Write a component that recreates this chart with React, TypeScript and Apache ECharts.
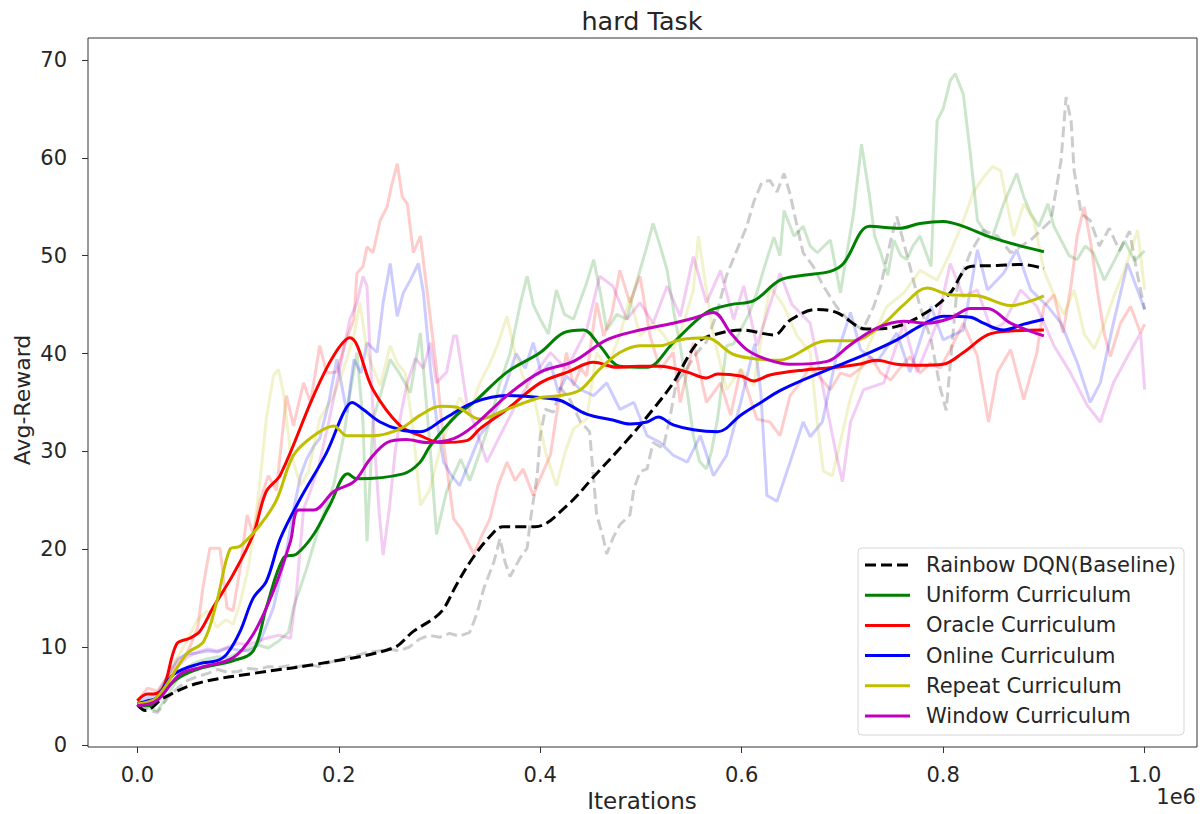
import React, { useEffect, useRef } from "react";
import * as echarts from "echarts";

type Pt = [number, number];

const seriesNames = [
  "Rainbow DQN(Baseline)",
  "Uniform Curriculum",
  "Oracle Curriculum",
  "Online Curriculum",
  "Repeat Curriculum",
  "Window Curriculum",
];
const seriesColors = ["#000000", "#008000", "#ff0000", "#0000ff", "#bfbf00", "#bf00bf"];

const xTicks = [0, 0.2, 0.4, 0.6, 0.8, 1.0];
const yTicks = [0, 10, 20, 30, 40, 50, 60, 70];

// Smoothed reward curves (x in units of 1e6 iterations)
const baselineSmooth: Pt[] = [
  [0, 4.1], [0.008, 3.5], [0.026, 4.8], [0.06, 6.3], [0.115, 7.3], [0.181, 8.3], [0.254, 9.9],
  [0.274, 11.6], [0.294, 12.9], [0.304, 13.9], [0.317, 16.4], [0.333, 19.1], [0.35, 21.3],
  [0.363, 22.3], [0.395, 22.3], [0.427, 24.5], [0.453, 27.4], [0.486, 31.1], [0.512, 34.3],
  [0.532, 37.0], [0.556, 41.1], [0.572, 41.9], [0.6, 42.4], [0.632, 41.9], [0.648, 43.4],
  [0.674, 44.5], [0.694, 44.2], [0.724, 42.5], [0.755, 42.8], [0.788, 44.5], [0.807, 46.2],
  [0.827, 48.9], [0.854, 49.0], [0.877, 49.1], [0.9, 48.7],
];
const uniformSmooth: Pt[] = [
  [0, 4.1], [0.012, 4.0], [0.023, 5.2], [0.042, 6.9], [0.062, 7.8], [0.095, 8.6], [0.115, 9.6],
  [0.128, 14.0], [0.145, 19.1], [0.158, 19.5], [0.175, 21.5], [0.191, 24.5], [0.209, 27.7],
  [0.218, 27.2], [0.264, 27.7], [0.28, 28.8], [0.291, 30.6], [0.317, 33.7], [0.334, 35.0],
  [0.367, 38.1], [0.4, 40.1], [0.423, 42.1], [0.443, 42.4], [0.459, 40.8], [0.479, 38.7],
  [0.506, 38.6], [0.532, 41.1], [0.565, 44.2], [0.589, 45.0], [0.612, 45.4], [0.638, 47.5],
  [0.661, 48.0], [0.688, 48.4], [0.701, 49.2], [0.727, 53.0], [0.757, 52.8], [0.777, 53.3],
  [0.8, 53.5], [0.82, 53.0], [0.844, 52.0], [0.873, 51.1], [0.9, 50.4],
];
const oracleSmooth: Pt[] = [
  [0, 4.5], [0.01, 5.2], [0.016, 5.2], [0.026, 5.9], [0.039, 10.3], [0.052, 10.9], [0.062, 11.6],
  [0.075, 14.0], [0.095, 17.4], [0.115, 21.5], [0.128, 25.9], [0.142, 27.6], [0.175, 35.7],
  [0.195, 39.8], [0.211, 41.6], [0.234, 36.3], [0.261, 32.6], [0.281, 31.6], [0.301, 30.9],
  [0.327, 31.1], [0.34, 32.3], [0.367, 34.3], [0.4, 37.0], [0.427, 38.1], [0.453, 39.1],
  [0.476, 38.6], [0.499, 38.7], [0.519, 38.7], [0.546, 38.1], [0.565, 37.5], [0.576, 37.9],
  [0.599, 37.7], [0.612, 37.2], [0.628, 37.8], [0.661, 38.3], [0.694, 38.6], [0.716, 38.9],
  [0.734, 39.3], [0.754, 38.9], [0.777, 38.8], [0.8, 38.9], [0.82, 40.1], [0.844, 41.9],
  [0.867, 42.3], [0.9, 42.4],
];
const onlineSmooth: Pt[] = [
  [0, 4.2], [0.01, 4.5], [0.019, 4.8], [0.036, 7.2], [0.062, 8.3], [0.079, 8.6], [0.089, 9.3],
  [0.102, 11.6], [0.115, 15.0], [0.128, 16.7], [0.142, 21.1], [0.162, 25.2], [0.188, 29.9],
  [0.205, 34.0], [0.213, 35.0], [0.224, 34.3], [0.241, 33.0], [0.261, 32.2], [0.281, 32.0],
  [0.304, 33.3], [0.334, 35.0], [0.367, 35.7], [0.4, 35.5], [0.42, 35.2], [0.446, 33.8],
  [0.472, 33.2], [0.489, 32.8], [0.506, 33.0], [0.517, 33.5], [0.532, 32.7], [0.552, 32.2],
  [0.576, 32.0], [0.599, 33.7], [0.619, 35.0], [0.638, 36.2], [0.661, 37.3], [0.694, 38.7],
  [0.727, 40.1], [0.754, 41.4], [0.777, 42.8], [0.8, 43.8], [0.827, 43.7], [0.84, 43.1],
  [0.86, 42.4], [0.88, 43.0], [0.9, 43.5],
];
const repeatSmooth: Pt[] = [
  [0, 4.2], [0.019, 4.8], [0.049, 9.3], [0.066, 10.6], [0.079, 14.7], [0.092, 20.0],
  [0.102, 20.3], [0.122, 22.5], [0.138, 25.0], [0.155, 29.6], [0.175, 31.6], [0.195, 32.6],
  [0.208, 31.6], [0.234, 31.6], [0.261, 32.3], [0.281, 33.7], [0.301, 34.6], [0.317, 34.5],
  [0.34, 33.3], [0.367, 34.3], [0.4, 35.5], [0.42, 35.7], [0.44, 36.3], [0.459, 38.4],
  [0.479, 40.1], [0.499, 40.8], [0.519, 40.8], [0.539, 41.4], [0.565, 41.6], [0.592, 39.9],
  [0.619, 39.4], [0.638, 39.3], [0.648, 39.6], [0.685, 41.3], [0.71, 41.3], [0.738, 42.8],
  [0.761, 45.0], [0.784, 46.7], [0.807, 46.0], [0.834, 45.9], [0.867, 44.9], [0.9, 45.9],
];
const windowSmooth: Pt[] = [
  [0, 4.0], [0.019, 4.5], [0.042, 7.2], [0.062, 7.9], [0.095, 8.9], [0.115, 11.3],
  [0.135, 15.7], [0.152, 20.8], [0.16, 24.0], [0.175, 24.0], [0.195, 25.9], [0.215, 26.9],
  [0.231, 29.2], [0.248, 30.9], [0.267, 31.2], [0.287, 30.9], [0.314, 31.3], [0.334, 32.6],
  [0.367, 35.7], [0.4, 38.1], [0.433, 39.2], [0.466, 41.4], [0.499, 42.4], [0.532, 43.1],
  [0.552, 43.6], [0.572, 44.2], [0.589, 42.1], [0.605, 40.4], [0.625, 39.4], [0.648, 38.9],
  [0.685, 39.2], [0.708, 40.9], [0.734, 42.6], [0.761, 43.3], [0.784, 43.1], [0.807, 43.6],
  [0.827, 44.6], [0.844, 44.6], [0.867, 43.1], [0.9, 41.8],
];

// Raw (unsmoothed) reward traces
const baselineRaw: Pt[] = [
  [0, 4.0], [0.01, 3.6], [0.02, 3.3], [0.03, 4.8], [0.04, 5.8], [0.05, 6.6], [0.06, 7.0],
  [0.07, 7.3], [0.08, 7.7], [0.09, 7.4], [0.1, 7.5], [0.11, 7.8], [0.12, 7.7], [0.13, 8.0],
  [0.14, 7.9], [0.15, 8.1], [0.16, 8.0], [0.17, 8.2], [0.18, 8.0], [0.19, 8.4], [0.2, 8.7],
  [0.21, 9.0], [0.22, 9.2], [0.23, 9.5], [0.24, 9.6], [0.25, 9.8], [0.26, 9.6], [0.27, 10.0],
  [0.28, 10.8], [0.29, 11.2], [0.3, 11.0], [0.31, 11.4], [0.32, 11.1], [0.33, 11.5],
  [0.337, 13.4], [0.344, 16.0], [0.354, 18.7], [0.36, 21.1], [0.365, 18.7], [0.37, 17.2],
  [0.38, 19.1], [0.387, 20.1], [0.39, 22.8], [0.397, 27.6], [0.4, 31.6], [0.405, 34.3],
  [0.413, 34.0], [0.42, 36.5], [0.43, 35.2], [0.44, 33.0], [0.449, 32.0], [0.456, 23.5],
  [0.462, 21.4], [0.466, 19.5], [0.472, 21.1], [0.479, 22.5], [0.489, 23.5], [0.493, 26.2],
  [0.499, 27.9], [0.506, 28.2], [0.512, 30.9], [0.522, 30.3], [0.529, 33.6], [0.535, 37.0],
  [0.545, 38.4], [0.555, 40.0], [0.565, 41.2], [0.575, 44.0], [0.585, 48.0], [0.595, 50.5],
  [0.605, 53.0], [0.612, 55.5], [0.62, 57.5], [0.628, 57.7], [0.635, 56.5], [0.642, 58.4],
  [0.648, 56.3], [0.655, 53.0], [0.661, 50.3], [0.671, 48.9], [0.681, 46.9], [0.694, 44.8],
  [0.705, 43.5], [0.72, 42.4], [0.731, 44.8], [0.738, 46.9], [0.748, 51.6], [0.754, 54.0],
  [0.767, 48.9], [0.777, 44.8], [0.788, 41.4], [0.797, 36.5], [0.803, 34.2], [0.814, 46.9],
  [0.827, 50.3], [0.84, 52.6], [0.854, 52.0], [0.867, 50.3], [0.887, 51.6], [0.907, 53.6],
  [0.917, 59.7], [0.922, 66.2], [0.927, 63.8], [0.93, 58.7], [0.937, 54.3], [0.946, 53.6],
  [0.955, 51.0], [0.965, 52.8], [0.975, 50.5], [0.985, 52.5], [0.993, 48.0], [1.0, 44.5],
];
const uniformRaw: Pt[] = [
  [0, 4.0], [0.01, 3.8], [0.02, 3.5], [0.03, 5.0], [0.04, 6.8], [0.05, 8.0], [0.06, 8.5],
  [0.07, 8.8], [0.08, 9.0], [0.09, 8.9], [0.1, 9.4], [0.11, 9.8], [0.12, 10.2], [0.13, 9.9],
  [0.14, 10.6], [0.15, 11.5], [0.155, 14.0], [0.168, 18.0], [0.181, 22.5], [0.195, 26.6],
  [0.205, 31.6], [0.212, 36.5], [0.218, 40.1], [0.224, 33.0], [0.228, 20.8], [0.234, 33.3],
  [0.242, 36.0], [0.251, 39.4], [0.26, 38.0], [0.271, 36.0], [0.281, 42.1], [0.291, 29.9],
  [0.297, 21.5], [0.307, 25.9], [0.321, 29.2], [0.33, 27.0], [0.34, 29.9], [0.35, 33.0],
  [0.36, 37.0], [0.37, 40.0], [0.38, 45.0], [0.387, 47.9], [0.393, 45.0], [0.4, 43.5],
  [0.408, 42.0], [0.416, 46.5], [0.424, 44.0], [0.433, 43.5], [0.446, 47.2], [0.453, 49.6],
  [0.46, 46.0], [0.466, 42.4], [0.476, 44.0], [0.486, 43.5], [0.492, 46.0], [0.499, 48.5],
  [0.506, 51.0], [0.512, 53.3], [0.519, 51.0], [0.526, 48.5], [0.533, 44.0], [0.539, 40.8],
  [0.546, 36.0], [0.552, 31.6], [0.558, 29.0], [0.565, 28.2], [0.57, 30.0], [0.576, 33.3],
  [0.585, 40.8], [0.592, 41.0], [0.599, 42.4], [0.607, 44.0], [0.615, 46.2], [0.623, 49.0],
  [0.632, 51.9], [0.638, 50.0], [0.642, 54.6], [0.652, 52.0], [0.661, 53.0], [0.668, 51.0],
  [0.675, 50.3], [0.688, 51.6], [0.698, 46.2], [0.704, 50.0], [0.711, 54.3], [0.719, 61.4],
  [0.727, 56.0], [0.732, 52.0], [0.738, 50.3], [0.745, 48.0], [0.751, 51.6], [0.758, 50.0],
  [0.764, 49.6], [0.77, 51.0], [0.777, 52.0], [0.788, 48.9], [0.794, 63.8], [0.8, 65.0],
  [0.807, 67.9], [0.812, 68.6], [0.82, 66.5], [0.827, 60.4], [0.834, 53.6], [0.841, 52.5],
  [0.848, 51.6], [0.86, 55.3], [0.873, 58.4], [0.88, 56.0], [0.887, 54.3], [0.895, 53.0],
  [0.904, 55.3], [0.91, 53.0], [0.917, 51.6], [0.925, 50.0], [0.933, 49.6], [0.941, 51.0],
  [0.949, 50.3], [0.96, 47.5], [0.97, 49.5], [0.98, 51.5], [0.99, 49.5], [1.0, 50.5],
];
const oracleRaw: Pt[] = [
  [0, 4.5], [0.01, 5.8], [0.02, 5.5], [0.03, 7.0], [0.04, 8.5], [0.05, 9.5], [0.06, 12.0],
  [0.065, 16.0], [0.072, 20.1], [0.082, 20.1], [0.089, 14.0], [0.095, 13.7], [0.102, 18.0],
  [0.109, 23.5], [0.115, 21.5], [0.122, 25.0], [0.13, 27.5], [0.138, 26.0], [0.148, 35.7],
  [0.155, 32.6], [0.165, 37.0], [0.172, 35.0], [0.181, 40.8], [0.188, 38.0], [0.198, 38.1],
  [0.206, 41.0], [0.215, 43.5], [0.218, 48.2], [0.224, 48.9], [0.228, 50.9], [0.234, 50.3],
  [0.241, 53.6], [0.248, 55.0], [0.252, 57.0], [0.258, 59.4], [0.263, 56.0], [0.268, 55.3],
  [0.274, 50.3], [0.281, 52.0], [0.287, 46.9], [0.297, 38.4], [0.305, 30.0], [0.314, 23.1],
  [0.322, 22.0], [0.334, 19.5], [0.342, 21.4], [0.35, 23.1], [0.358, 26.5], [0.367, 28.9],
  [0.375, 27.0], [0.383, 28.2], [0.393, 25.5], [0.401, 27.5], [0.41, 29.6], [0.418, 35.0],
  [0.426, 40.1], [0.433, 36.7], [0.44, 38.5], [0.446, 37.7], [0.456, 45.2], [0.463, 41.8],
  [0.471, 44.0], [0.479, 48.5], [0.489, 45.2], [0.499, 47.9], [0.509, 41.8], [0.519, 38.4],
  [0.532, 40.1], [0.539, 35.0], [0.552, 41.1], [0.565, 35.0], [0.579, 37.0], [0.589, 33.7],
  [0.599, 38.4], [0.615, 33.3], [0.628, 33.0], [0.638, 31.6], [0.648, 35.7], [0.658, 37.0],
  [0.668, 38.7], [0.678, 37.5], [0.688, 36.3], [0.698, 38.0], [0.708, 37.7], [0.718, 38.5],
  [0.728, 39.7], [0.738, 38.0], [0.748, 37.3], [0.757, 38.5], [0.767, 39.7], [0.777, 38.0],
  [0.787, 39.0], [0.797, 38.5], [0.807, 40.4], [0.82, 43.1], [0.834, 39.7], [0.845, 33.0],
  [0.854, 38.1], [0.867, 40.4], [0.88, 35.3], [0.893, 40.1], [0.9, 44.8], [0.91, 46.0],
  [0.919, 42.1], [0.927, 47.0], [0.933, 52.0], [0.94, 55.0], [0.947, 51.0], [0.953, 46.5],
  [0.96, 42.0], [0.966, 39.7], [0.976, 43.1], [0.986, 44.8], [0.996, 42.1], [1.0, 43.0],
];
const onlineRaw: Pt[] = [
  [0, 4.3], [0.01, 4.8], [0.02, 5.2], [0.03, 7.0], [0.04, 8.8], [0.05, 9.3], [0.06, 9.4],
  [0.07, 9.6], [0.08, 9.5], [0.09, 9.9], [0.1, 9.7], [0.11, 9.6], [0.115, 9.8], [0.122, 10.6],
  [0.135, 14.0], [0.148, 19.8], [0.155, 24.0], [0.162, 27.5], [0.168, 29.2], [0.175, 30.5],
  [0.181, 31.3], [0.19, 35.0], [0.198, 39.4], [0.208, 34.0], [0.215, 39.4], [0.222, 38.0],
  [0.228, 41.1], [0.238, 40.1], [0.244, 45.2], [0.251, 49.2], [0.258, 43.8], [0.264, 46.2],
  [0.271, 47.5], [0.279, 49.2], [0.284, 46.2], [0.291, 38.4], [0.297, 33.3], [0.304, 28.9],
  [0.312, 27.5], [0.32, 26.5], [0.33, 29.0], [0.34, 31.6], [0.35, 33.0], [0.36, 35.0],
  [0.368, 37.5], [0.376, 40.0], [0.385, 38.5], [0.393, 41.1], [0.401, 38.0], [0.41, 39.1],
  [0.418, 36.0], [0.426, 37.7], [0.44, 36.3], [0.453, 35.7], [0.466, 37.0], [0.479, 34.3],
  [0.493, 35.0], [0.506, 31.6], [0.519, 30.9], [0.532, 29.6], [0.546, 28.9], [0.559, 31.6],
  [0.572, 27.5], [0.585, 29.6], [0.599, 35.0], [0.606, 38.0], [0.613, 41.0], [0.619, 36.0],
  [0.625, 25.5], [0.635, 24.9], [0.648, 28.9], [0.661, 33.0], [0.668, 31.5], [0.68, 33.0],
  [0.694, 39.7], [0.708, 44.2], [0.718, 40.4], [0.734, 39.1], [0.754, 42.1], [0.767, 38.1],
  [0.788, 44.8], [0.8, 41.4], [0.82, 42.4], [0.834, 50.6], [0.844, 46.5], [0.86, 48.2],
  [0.873, 50.6], [0.887, 46.5], [0.904, 44.8], [0.917, 43.1], [0.933, 39.1], [0.946, 35.0],
  [0.956, 37.0], [0.969, 43.1], [0.983, 49.2], [0.993, 46.5], [1.0, 44.5],
];
const repeatRaw: Pt[] = [
  [0, 4.5], [0.01, 4.2], [0.02, 4.8], [0.03, 7.0], [0.04, 9.0], [0.049, 10.6], [0.059, 12.7],
  [0.069, 13.7], [0.079, 12.0], [0.088, 12.8], [0.095, 12.3], [0.102, 14.5], [0.11, 18.0],
  [0.116, 22.0], [0.122, 27.2], [0.128, 33.3], [0.135, 37.7], [0.14, 38.4], [0.145, 36.0],
  [0.152, 29.9], [0.162, 26.5], [0.17, 28.0], [0.181, 33.3], [0.195, 35.7], [0.205, 38.5],
  [0.215, 41.8], [0.221, 45.2], [0.228, 40.1], [0.241, 36.7], [0.251, 40.8], [0.258, 39.0],
  [0.266, 38.0], [0.274, 32.0], [0.281, 24.5], [0.29, 26.0], [0.3, 30.0], [0.31, 33.0],
  [0.32, 35.5], [0.33, 34.0], [0.34, 37.0], [0.35, 39.0], [0.358, 41.0], [0.367, 43.8],
  [0.375, 40.0], [0.385, 37.0], [0.395, 35.0], [0.405, 30.0], [0.416, 26.5], [0.425, 30.0],
  [0.433, 32.3], [0.446, 33.3], [0.456, 40.1], [0.466, 38.5], [0.479, 41.8], [0.489, 45.8],
  [0.499, 41.8], [0.512, 43.1], [0.522, 42.0], [0.532, 40.4], [0.542, 43.0], [0.552, 46.5],
  [0.557, 52.0], [0.562, 48.5], [0.572, 41.8], [0.585, 36.3], [0.599, 38.4], [0.612, 36.7],
  [0.62, 42.0], [0.628, 46.9], [0.642, 44.8], [0.655, 41.8], [0.668, 40.1], [0.675, 33.0],
  [0.681, 28.0], [0.69, 27.5], [0.698, 31.0], [0.708, 35.5], [0.718, 38.5], [0.727, 41.1],
  [0.744, 44.8], [0.761, 46.2], [0.777, 48.5], [0.794, 47.5], [0.807, 50.3], [0.82, 53.6],
  [0.83, 56.5], [0.84, 58.0], [0.849, 59.1], [0.857, 58.7], [0.864, 55.0], [0.87, 52.0],
  [0.88, 55.3], [0.89, 53.6], [0.9, 48.5], [0.91, 46.0], [0.92, 44.0], [0.93, 46.5],
  [0.94, 42.0], [0.95, 40.5], [0.96, 43.0], [0.97, 46.0], [0.98, 48.5], [0.993, 52.6],
  [1.0, 46.5],
];
const windowRaw: Pt[] = [
  [0, 4.0], [0.01, 4.2], [0.02, 4.6], [0.03, 6.5], [0.04, 8.0], [0.05, 9.0], [0.06, 9.5],
  [0.07, 9.8], [0.08, 9.6], [0.09, 10.0], [0.1, 10.4], [0.11, 10.2], [0.12, 10.6],
  [0.128, 10.9], [0.14, 11.2], [0.152, 10.9], [0.158, 15.7], [0.165, 24.1], [0.172, 26.0],
  [0.18, 28.5], [0.19, 33.0], [0.2, 38.0], [0.211, 43.5], [0.218, 45.2], [0.224, 47.9],
  [0.228, 46.9], [0.231, 40.1], [0.236, 30.0], [0.24, 23.8], [0.244, 19.4], [0.25, 24.0],
  [0.256, 30.0], [0.262, 34.0], [0.268, 37.0], [0.276, 39.5], [0.284, 38.5], [0.291, 41.1],
  [0.297, 37.0], [0.307, 38.1], [0.314, 41.8], [0.317, 41.8], [0.327, 35.0], [0.337, 32.0],
  [0.347, 28.9], [0.36, 31.6], [0.377, 35.0], [0.393, 37.7], [0.41, 40.1], [0.426, 38.4],
  [0.446, 42.4], [0.459, 47.9], [0.472, 46.9], [0.486, 43.5], [0.499, 45.2], [0.512, 43.1],
  [0.526, 46.9], [0.539, 43.8], [0.552, 49.9], [0.565, 45.2], [0.579, 48.5], [0.592, 43.5],
  [0.602, 46.9], [0.615, 40.8], [0.625, 44.0], [0.638, 48.2], [0.65, 45.0], [0.668, 43.1],
  [0.681, 36.3], [0.694, 29.6], [0.7, 26.9], [0.708, 33.0], [0.721, 36.3], [0.741, 37.0],
  [0.761, 43.1], [0.774, 38.1], [0.794, 43.1], [0.807, 49.2], [0.82, 45.8], [0.834, 46.5],
  [0.848, 42.4], [0.86, 43.1], [0.877, 46.5], [0.893, 44.8], [0.91, 40.8], [0.926, 38.1],
  [0.943, 34.7], [0.956, 33.0], [0.969, 37.0], [0.983, 39.7], [0.996, 42.1], [1.0, 36.3],
];

const smoothData = [baselineSmooth, uniformSmooth, oracleSmooth, onlineSmooth, repeatSmooth, windowSmooth];
const rawData = [baselineRaw, uniformRaw, oracleRaw, onlineRaw, repeatRaw, windowRaw];

const FONT = "DejaVu Sans";
const TEXT = "#262626";
const DASH = [11, 5];

export default function App() {
  const ref = useRef<HTMLDivElement>(null);

  useEffect(() => {
    if (!ref.current) return;
    const chart = echarts.init(ref.current, undefined, { renderer: "svg" });

    const rawSeries = rawData.map((d, i) => ({
      type: "line",
      name: seriesNames[i] + " (raw)",
      data: d,
      symbol: "none",
      silent: true,
      z: 1,
      lineStyle: {
        color: seriesColors[i],
        width: 3,
        opacity: 0.2,
        type: i === 0 ? DASH : "solid",
      },
    }));
    const smoothSeries = smoothData.map((d, i) => ({
      type: "line",
      name: seriesNames[i],
      data: d,
      symbol: "none",
      smooth: 0.35,
      silent: true,
      z: 3,
      lineStyle: {
        color: seriesColors[i],
        width: 3,
        type: i === 0 ? DASH : "solid",
      },
    }));

    // Legend box drawn as graphic elements
    const legendRowGap = 30.2;
    const legendChildren: any[] = [
      {
        type: "rect",
        shape: { x: 0, y: 0, width: 326, height: 187, r: 4 },
        style: { fill: "rgba(255,255,255,0.85)", stroke: "#d6d6d6", lineWidth: 1 },
      },
    ];
    seriesNames.forEach((name, i) => {
      const cy = 17 + legendRowGap * i;
      legendChildren.push({
        type: "line",
        shape: { x1: 7, y1: cy, x2: 52, y2: cy },
        style: {
          stroke: seriesColors[i],
          lineWidth: 3,
          lineDash: i === 0 ? DASH : null,
        },
      });
      legendChildren.push({
        type: "text",
        x: 68,
        y: cy,
        style: {
          text: name,
          fill: TEXT,
          font: `21px "${FONT}"`,
          textVerticalAlign: "middle",
          textAlign: "left",
        },
      });
    });

    chart.setOption({
      animation: false,
      backgroundColor: "#ffffff",
      grid: {
        left: 88,
        right: 5,
        top: 38,
        bottom: 67,
        show: true,
        borderColor: "#333333",
        borderWidth: 1,
        backgroundColor: "transparent",
      },
      xAxis: {
        type: "value",
        min: -0.049,
        max: 1.052,
        axisLine: { show: false, onZero: false },
        splitLine: { show: false },
        axisTick: {
          show: true,
          inside: false,
          length: 6,
          customValues: xTicks,
          lineStyle: { color: "#333333", width: 1 },
        },
        axisLabel: {
          customValues: xTicks,
          formatter: (v: number) => v.toFixed(1),
          fontFamily: FONT,
          fontSize: 21,
          color: TEXT,
          margin: 17,
        },
      },
      yAxis: {
        type: "value",
        min: -0.22,
        max: 72.25,
        axisLine: { show: false, onZero: false },
        splitLine: { show: false },
        axisTick: {
          show: true,
          inside: false,
          length: 6,
          customValues: yTicks,
          lineStyle: { color: "#333333", width: 1 },
        },
        axisLabel: {
          customValues: yTicks,
          formatter: (v: number) => String(Math.round(v)),
          fontFamily: FONT,
          fontSize: 21,
          color: TEXT,
          margin: 21,
        },
      },
      graphic: [
        {
          type: "text",
          x: 642,
          y: 21,
          style: {
            text: "hard Task",
            fill: TEXT,
            font: `25.5px "${FONT}"`,
            textAlign: "center",
            textVerticalAlign: "middle",
          },
        },
        {
          type: "text",
          x: 642,
          y: 801,
          style: {
            text: "Iterations",
            fill: TEXT,
            font: `23px "${FONT}"`,
            textAlign: "center",
            textVerticalAlign: "middle",
          },
        },
        {
          type: "text",
          x: 1196,
          y: 797,
          style: {
            text: "1e6",
            fill: TEXT,
            font: `21px "${FONT}"`,
            textAlign: "right",
            textVerticalAlign: "middle",
          },
        },
        {
          type: "text",
          x: 22,
          y: 400,
          rotation: Math.PI / 2,
          style: {
            text: "Avg-Reward",
            fill: TEXT,
            font: `22px "${FONT}"`,
            textAlign: "center",
            textVerticalAlign: "middle",
          },
        },
        {
          type: "group",
          x: 858,
          y: 548,
          z: 100,
          children: legendChildren,
        },
      ],
      series: [...rawSeries, ...smoothSeries],
    });

    return () => chart.dispose();
  }, []);

  return (
    <div
      ref={ref}
      style={{ position: "fixed", left: 0, top: 0, width: 1202, height: 814 }}
    />
  );
}
